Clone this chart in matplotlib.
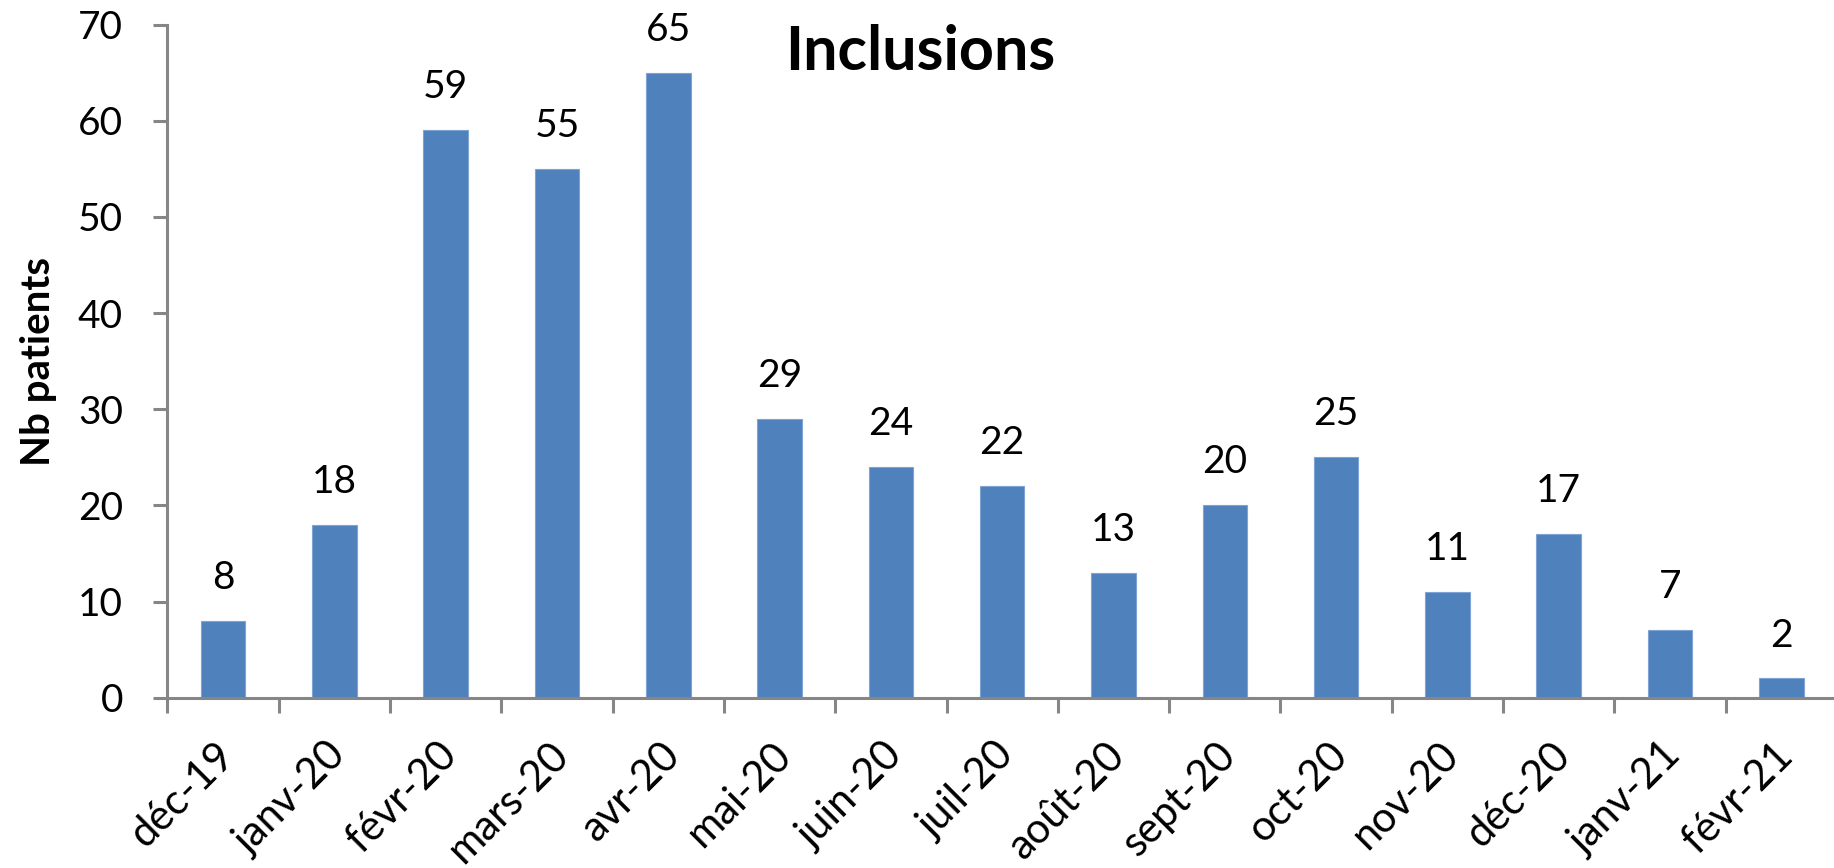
import matplotlib
matplotlib.use("Agg")
import matplotlib.pyplot as plt
import matplotlib.transforms as mtransforms
import numpy as np

# Monthly inclusions
months = ["déc-19", "janv-20", "févr-20", "mars-20", "avr-20", "mai-20",
          "juin-20", "juil-20", "août-20", "sept-20", "oct-20", "nov-20",
          "déc-20", "janv-21", "févr-21"]
patients = [8, 18, 59, 55, 65, 29, 24, 22, 13, 20, 25, 11, 17, 7, 2]
y_ticks = [0, 10, 20, 30, 40, 50, 60, 70]

title = "Inclusions"
y_label = "Nb patients"

plt.rcParams["font.family"] = ["Lato", "DejaVu Sans"]

BAR = "#4F81BD"
AXIS = "#868686"

fig = plt.figure(figsize=(18.34, 8.68), dpi=100)
ax = fig.add_axes([0.0913, 0.1962, 0.9103, 0.7755])

x = np.arange(len(months))
bars = ax.bar(x, patients, width=0.4, color=BAR, edgecolor="#7FA3D4",
              linewidth=0.8, zorder=2)

for xi, v in zip(x, patients):
    ax.annotate(str(v), (xi, v), xytext=(0, 23), textcoords="offset points",
                ha="center", va="baseline", fontsize=28, color="black")

ax.set_xlim(-0.5, len(months) - 0.5)
ax.set_ylim(0, 70)
ax.set_yticks(y_ticks)
ax.set_yticklabels([str(t) for t in y_ticks], fontsize=28)

ax.set_xticks(x)
ax.set_xticklabels(months, fontsize=30, rotation=45, ha="right",
                   va="center", rotation_mode="anchor")
ax.set_xticks(np.arange(len(months) + 1) - 0.5, minor=True)
ax.tick_params(axis="x", which="major", length=0, pad=37)
ax.tick_params(axis="x", which="minor", length=11, width=2.2, color=AXIS,
               direction="out")
ax.tick_params(axis="y", which="major", length=10, width=2.2, color=AXIS,
               direction="out", pad=22)

# nudge the slanted month labels slightly to the right
shift = mtransforms.ScaledTranslation(0.05, 0, fig.dpi_scale_trans)
for lbl in ax.get_xticklabels():
    lbl.set_transform(lbl.get_transform() + shift)

for side in ("top", "right"):
    ax.spines[side].set_visible(False)
for side in ("left", "bottom"):
    ax.spines[side].set_color(AXIS)
    ax.spines[side].set_linewidth(2.2)

ax.set_ylabel(y_label, fontsize=29, fontweight="bold")
ax.yaxis.label.set_verticalalignment("center")
ax.yaxis.set_label_coords(-0.077, 0.5)

fig.text(0.5015, 0.9195, title, ha="center", va="baseline", fontsize=44,
         fontweight="bold")

fig.savefig("out.png", dpi=100)
